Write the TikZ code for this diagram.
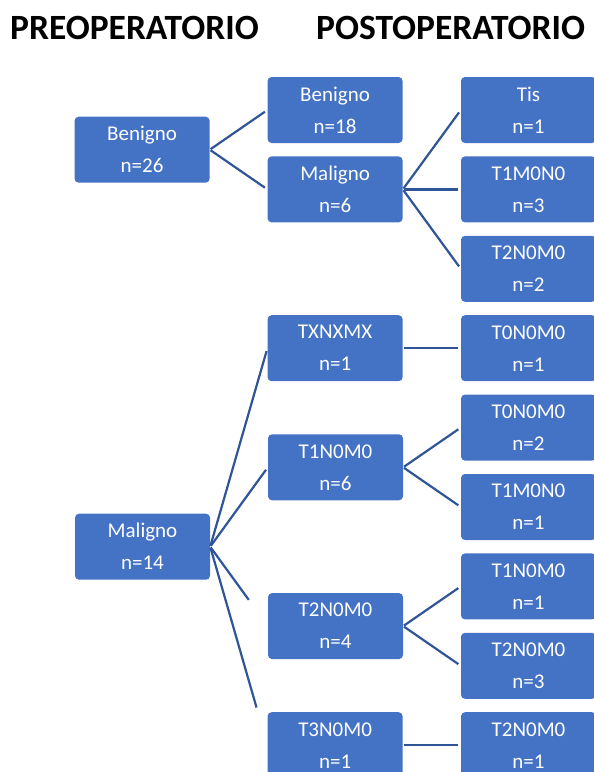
\documentclass[tikz,border=0pt]{standalone}
\usepackage{fontspec}
\setmainfont{Carlito}
\usetikzlibrary{positioning,calc}
\definecolor{boxblue}{HTML}{4472C4}
\definecolor{lineblue}{HTML}{2F5597}

\begin{document}
\begin{tikzpicture}[x=1pt,y=1pt,node distance=13pt,
  box/.style={fill=boxblue,rounded corners=4pt,minimum width=135pt,minimum height=66pt,inner sep=0pt,align=center,text=white,font=\fontsize{21}{32}\selectfont},
  title/.style={font=\fontsize{35.5}{40}\selectfont\bfseries,inner sep=0pt,anchor=base west},
  link/.style={draw=lineblue,line width=2.2pt,shorten <=1pt,shorten >=3pt}]
  \useasboundingbox (0,0) rectangle (594,-772);
  \node[title] (pre) at (10,-39) {PREOPERATORIO};
  \node[title] (post) at (316,-39) {POSTOPERATORIO};
  % right column
  \node[box] (tis) at (528.5,-110) {Tis\\n=1};
  \node[box,below=of tis] (t1m) {T1M0N0\\n=3};
  \node[box,below=of t1m] (t2n) {T2N0M0\\n=2};
  \node[box,below=of t2n] (t0a) {T0N0M0\\n=1};
  \node[box,below=of t0a] (t0b) {T0N0M0\\n=2};
  \node[box,below=of t0b] (t1b) {T1M0N0\\n=1};
  \node[box,below=of t1b] (t1c) {T1N0M0\\n=1};
  \node[box,below=of t1c] (t2c) {T2N0M0\\n=3};
  \node[box,below=of t2c] (t2d) {T2N0M0\\n=1};
  % middle column
  \node[box,left=58pt of tis] (ben2) {Benigno\\n=18};
  \node[box,left=58pt of t1m] (mal2) {Maligno\\n=6};
  \node[box,left=58pt of t0a] (tx) {TXNXMX\\n=1};
  \node[box] (t1) at ($(t0b)!0.5!(t1b)-(193,0)$) {T1N0M0\\n=6};
  \node[box] (t2) at ($(t1c)!0.5!(t2c)-(193,0)$) {T2N0M0\\n=4};
  \node[box,left=58pt of t2d] (t3) {T3N0M0\\n=1};
  % left column
  \node[box] (ben) at ($(ben2)!0.5!(mal2)-(193,0)$) {Benigno\\n=26};
  \node[box] (mal) at ($(t1)!0.5!(t2)-(193,0)$) {Maligno\\n=14};
  \draw[link] (ben.east) -- (ben2.west);
  \draw[link] (ben.east) -- (mal2.west);
  \draw[link] (mal2.east) -- (tis.west);
  \draw[link] (mal2.east) -- (t1m.west);
  \draw[link] (mal2.east) -- (t2n.west);
  \draw[link] (mal.east) -- (tx.west);
  \draw[link] (mal.east) -- (t1.west);
  \draw[link,shorten >=0pt] (mal.east) -- ($(mal.east)!0.67!(t2.west)$);
  \draw[link,shorten >=0pt] (mal.east) -- ($(mal.east)!0.81!(t3.west)$);
  \draw[link] (tx.east) -- (t0a.west);
  \draw[link] (t1.east) -- (t0b.west);
  \draw[link] (t1.east) -- (t1b.west);
  \draw[link] (t2.east) -- (t1c.west);
  \draw[link] (t2.east) -- (t2c.west);
  \draw[link] (t3.east) -- (t2d.west);
\end{tikzpicture}
\end{document}
